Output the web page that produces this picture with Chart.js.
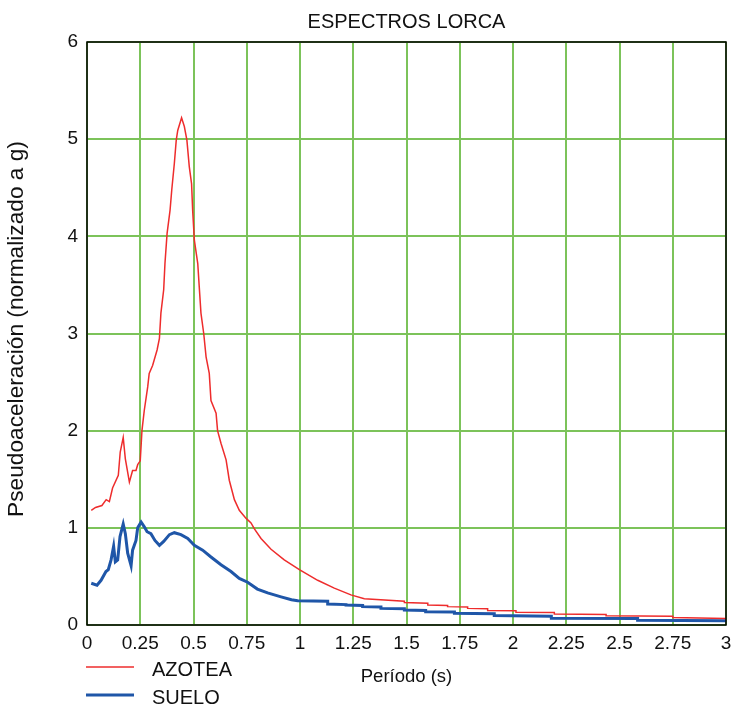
<!DOCTYPE html>
<html>
<head>
<meta charset="utf-8">
<script src="https://cdn.jsdelivr.net/npm/chart.js@4.4.1/dist/chart.umd.min.js"></script>
<style>
  html, body { margin: 0; padding: 0; background: #ffffff; }
  #wrap { width: 733px; height: 708px; position: relative; }
</style>
</head>
<body>
<div id="wrap"><canvas id="c" width="733" height="708"></canvas></div>
<script>
// Response spectra, Lorca: period (s) vs pseudo-acceleration (normalised to g)
const chartTitle = 'ESPECTROS LORCA';
const xTitle = 'Período (s)';
const yTitle = 'Pseudoaceleración (normalizado a g)';
const seriesNames = ['AZOTEA', 'SUELO'];

const azoteaT = [0.02,0.04,0.07,0.09,0.105,0.12,0.147,0.156,0.170,0.180,0.199,0.214,0.230,0.238,0.250,0.258,0.269,0.285,0.292,0.308,0.329,0.340,0.347,0.360,0.366,0.376,0.390,0.398,0.410,0.419,0.426,0.444,0.457,0.469,0.480,0.491,0.496,0.504,0.520,0.527,0.535,0.548,0.559,0.574,0.582,0.606,0.613,0.629,0.653,0.668,0.692,0.715,0.746,0.770,0.786,0.817,0.864,0.926,0.997,1.083,1.161,1.239,1.302,1.49,1.49,1.60,1.60,1.693,1.693,1.787,1.787,1.881,1.881,2.014,2.014,2.194,2.194,2.437,2.437,2.75,2.75,3.0];
const azoteaSa = [1.18,1.21,1.23,1.29,1.27,1.41,1.54,1.78,1.93,1.71,1.47,1.59,1.59,1.65,1.69,2.00,2.21,2.45,2.59,2.67,2.83,2.95,3.21,3.45,3.72,4.03,4.27,4.48,4.75,4.99,5.09,5.22,5.13,4.99,4.72,4.54,4.27,3.96,3.72,3.48,3.21,3.00,2.76,2.59,2.31,2.18,2.00,1.87,1.70,1.49,1.29,1.18,1.10,1.05,0.99,0.89,0.78,0.67,0.57,0.46,0.38,0.31,0.27,0.245,0.232,0.225,0.206,0.200,0.189,0.185,0.171,0.168,0.150,0.147,0.132,0.128,0.112,0.108,0.094,0.090,0.076,0.068];

const sueloT = [0.02,0.047,0.066,0.089,0.10,0.113,0.125,0.133,0.144,0.155,0.170,0.180,0.191,0.207,0.214,0.230,0.238,0.254,0.269,0.282,0.300,0.319,0.340,0.360,0.387,0.410,0.441,0.473,0.504,0.543,0.582,0.629,0.676,0.715,0.754,0.80,0.848,0.911,0.96,0.989,1.13,1.13,1.216,1.216,1.294,1.294,1.38,1.38,1.49,1.49,1.59,1.59,1.725,1.725,1.912,1.912,2.18,2.18,2.585,2.585,3.0];
const sueloSa = [0.43,0.41,0.46,0.55,0.57,0.67,0.81,0.65,0.67,0.91,1.04,0.94,0.74,0.61,0.77,0.87,1.00,1.06,1.01,0.96,0.94,0.87,0.82,0.86,0.93,0.95,0.93,0.89,0.82,0.77,0.70,0.62,0.55,0.48,0.44,0.37,0.33,0.29,0.26,0.25,0.245,0.216,0.21,0.205,0.20,0.189,0.185,0.171,0.168,0.154,0.150,0.137,0.135,0.120,0.116,0.098,0.090,0.070,0.068,0.050,0.045];

const xTicks = [0,0.25,0.5,0.75,1,1.25,1.5,1.75,2,2.25,2.5,2.75,3];
const yTicks = [0,1,2,3,4,5,6];

const RED = '#ee2c2c';
const BLUE = '#1f56a8';
const GRID = '#7cc35a';
const FONT = "'Liberation Sans', Arial, sans-serif";

const toPoints = (xs, ys) => xs.map((x, i) => ({ x: x, y: ys[i] }));

// Frame, titles and legend drawn on the canvas around the plot area
const decorations = {
  id: 'decorations',
  afterDatasetsDraw(chart) {
    const ctx = chart.ctx;
    const a = chart.chartArea;
    ctx.save();
    ctx.strokeStyle = '#000';
    ctx.lineWidth = 1.5;
    ctx.strokeRect(a.left, a.top, a.right - a.left, a.bottom - a.top);
    ctx.restore();
  },
  afterDraw(chart) {
    const ctx = chart.ctx;
    const a = chart.chartArea;
    const cx = (a.left + a.right) / 2;
    ctx.save();
    ctx.fillStyle = '#111';
    ctx.textAlign = 'center';
    ctx.textBaseline = 'middle';
    ctx.font = '20px ' + FONT;
    ctx.fillText(chartTitle, cx, 22);

    ctx.font = '18.5px ' + FONT;
    ctx.fillText(xTitle, cx, 677);

    ctx.save();
    ctx.translate(17, 329);
    ctx.rotate(-Math.PI / 2);
    ctx.font = '22.7px ' + FONT;
    ctx.fillText(yTitle, 0, 0);
    ctx.restore();

    // legend
    const rows = [
      { name: seriesNames[0], color: RED, width: 1.5, y: 667 },
      { name: seriesNames[1], color: BLUE, width: 3, y: 695 }
    ];
    ctx.textAlign = 'left';
    ctx.font = '20px ' + FONT;
    rows.forEach(r => {
      ctx.strokeStyle = r.color;
      ctx.lineWidth = r.width;
      ctx.beginPath();
      ctx.moveTo(86, r.y);
      ctx.lineTo(134, r.y);
      ctx.stroke();
      ctx.fillStyle = '#111';
      ctx.fillText(r.name, 152, r.y + 3);
    });
    ctx.restore();
  }
};

new Chart(document.getElementById('c'), {
  type: 'line',
  data: {
    datasets: [
      {
        label: seriesNames[0],
        data: toPoints(azoteaT, azoteaSa),
        borderColor: RED,
        borderWidth: 1.5,
        pointRadius: 0,
        tension: 0,
        fill: false
      },
      {
        label: seriesNames[1],
        data: toPoints(sueloT, sueloSa),
        borderColor: BLUE,
        borderWidth: 3,
        pointRadius: 0,
        tension: 0,
        fill: false
      }
    ]
  },
  options: {
    responsive: false,
    animation: false,
    devicePixelRatio: 1,
    layout: { padding: { top: 42, right: 7, left: 0, bottom: 0 } },
    plugins: {
      legend: { display: false },
      title: { display: false },
      tooltip: { enabled: false }
    },
    scales: {
      x: {
        type: 'linear',
        min: 0,
        max: 3,
        afterBuildTicks(scale) { scale.ticks = xTicks.map(v => ({ value: v })); },
        afterFit(scale) {
          scale.height = 83;
          scale.paddingLeft = 0;
          scale.paddingRight = 0;
        },
        grid: { color: GRID, lineWidth: 2, drawTicks: false },
        border: { display: false },
        ticks: {
          color: '#111',
          font: { family: FONT, size: 19 },
          padding: 7,
          maxRotation: 0,
          autoSkip: false,
          callback: v => String(v)
        }
      },
      y: {
        type: 'linear',
        min: 0,
        max: 6,
        afterBuildTicks(scale) { scale.ticks = yTicks.map(v => ({ value: v })); },
        afterFit(scale) {
          scale.width = 87;
          scale.paddingTop = 0;
          scale.paddingBottom = 0;
        },
        grid: { color: GRID, lineWidth: 2, drawTicks: false },
        border: { display: false },
        ticks: {
          color: '#111',
          font: { family: FONT, size: 19 },
          padding: 9,
          callback: v => String(v)
        }
      }
    }
  },
  plugins: [decorations]
});
</script>
</body>
</html>
